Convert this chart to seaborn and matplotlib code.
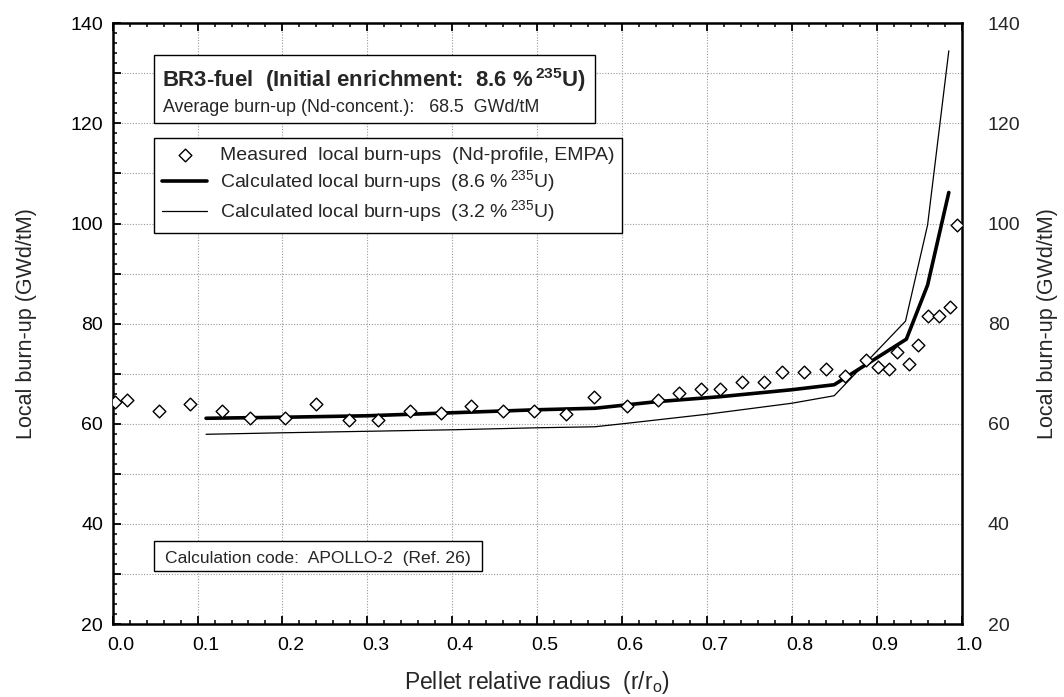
import numpy as np
import pandas as pd
import matplotlib
matplotlib.use("Agg")
import matplotlib.pyplot as plt
import matplotlib.patches as patches
import matplotlib.transforms as mtransforms
from matplotlib.ticker import MultipleLocator, FuncFormatter
import seaborn as sns

# measured local burn-ups (Nd-profile, EMPA)
r_meas = [0.003, 0.017, 0.055, 0.091, 0.129, 0.162, 0.203, 0.239, 0.278, 0.312,
          0.350, 0.387, 0.422, 0.460, 0.496, 0.534, 0.567, 0.606, 0.642, 0.667,
          0.693, 0.716, 0.741, 0.767, 0.789, 0.815, 0.840, 0.863, 0.888, 0.902,
          0.915, 0.924, 0.938, 0.949, 0.960, 0.973, 0.986, 0.995]
bu_meas = [64.4, 64.8, 62.6, 64.0, 62.6, 61.1, 61.2, 64.0, 60.8, 60.8,
           62.6, 62.1, 63.5, 62.6, 62.6, 62.0, 65.3, 63.5, 64.8, 66.1,
           67.0, 66.9, 68.3, 68.3, 70.4, 70.4, 70.9, 69.6, 72.8, 71.4,
           70.9, 74.4, 71.9, 75.7, 81.5, 81.5, 83.3, 99.7]

# calculated, 8.6 % 235U
r_calc86 = [0.11, 0.2, 0.3, 0.4, 0.5, 0.568, 0.64, 0.715, 0.8, 0.85, 0.935, 0.96, 0.985]
bu_calc86 = [61.1, 61.3, 61.6, 62.2, 62.8, 63.1, 64.4, 65.4, 66.8, 67.8, 76.9, 87.7, 106.2]

# calculated, 3.2 % 235U
r_calc32 = [0.11, 0.2, 0.3, 0.4, 0.5, 0.568, 0.606, 0.7, 0.8, 0.85, 0.934, 0.96, 0.985]
bu_calc32 = [57.9, 58.2, 58.5, 58.8, 59.2, 59.4, 60.1, 61.9, 64.1, 65.6, 80.5, 99.7, 134.5]

lab_meas = "Measured  local burn-ups  (Nd-profile, EMPA)"
lab_86 = "Calculated local burn-ups  (8.6 %$\\,^{235}$U)"
lab_32 = "Calculated local burn-ups  (3.2 %$\\,^{235}$U)"

sns.set_theme(style="ticks")
plt.rcParams["font.family"] = ["Liberation Sans", "DejaVu Sans"]
plt.rcParams["mathtext.fontset"] = "custom"
plt.rcParams["mathtext.rm"] = "Liberation Sans"
plt.rcParams["mathtext.it"] = "Liberation Sans:italic"
plt.rcParams["mathtext.bf"] = "Liberation Sans:bold"

df_meas = pd.DataFrame({"r": r_meas, "bu": bu_meas})
df_86 = pd.DataFrame({"r": r_calc86, "bu": bu_calc86})
df_32 = pd.DataFrame({"r": r_calc32, "bu": bu_calc32})

fig = plt.figure(figsize=(10.64, 6.97), dpi=100)
ax = fig.add_axes([0.1059, 0.1047, 0.7978, 0.8619])

sns.scatterplot(data=df_meas, x="r", y="bu", ax=ax, marker="D", s=42,
                facecolor="white", edgecolor="black", linewidth=1.0,
                label=lab_meas, zorder=5)
sns.lineplot(data=df_86, x="r", y="bu", ax=ax, color="black", linewidth=2.6,
             estimator=None, label=lab_86, zorder=4)
sns.lineplot(data=df_32, x="r", y="bu", ax=ax, color="black", linewidth=0.9,
             estimator=None, label=lab_32, zorder=4)

ax.set_xlim(0.0, 1.0)
ax.set_ylim(20, 140)
ax.xaxis.set_major_locator(MultipleLocator(0.1))
ax.xaxis.set_minor_locator(MultipleLocator(0.02))
ax.yaxis.set_major_locator(MultipleLocator(10))
ax.yaxis.set_minor_locator(MultipleLocator(2))
yfmt = FuncFormatter(lambda v, p: f"{v:.0f}" if round(v) % 20 == 0 else "")
ax.yaxis.set_major_formatter(yfmt)
ax.xaxis.set_major_formatter(FuncFormatter(lambda v, p: f"{v:.1f}"))

ax.grid(True, which="major", linestyle=(0, (1, 1.5)), color="#9a9a9a", linewidth=0.8)
ax.tick_params(which="both", direction="in", top=True, right=True, colors="black",
               labelsize=14)
ax.tick_params(which="major", length=6, width=1.3)
ax.tick_params(which="minor", length=3, width=1.1)
ax.tick_params(axis="y", pad=7)
ax.tick_params(axis="x", pad=9)
for s in ax.spines.values():
    s.set_linewidth(1.8)
    s.set_color("black")

# tick labels on the x axis sit a bit to the right of their ticks
offset = mtransforms.ScaledTranslation(0.08, 0, fig.dpi_scale_trans)
for lbl in ax.get_xticklabels():
    lbl.set_transform(lbl.get_transform() + offset)

ax.set_xlabel("Pellet relative radius  (r/r$_\\mathrm{o}$)", fontsize=16.5, labelpad=11)
ax.set_ylabel("Local burn-up (GWd/tM)", fontsize=15.5, labelpad=24)

ax2 = ax.twinx()
ax2.set_ylim(ax.get_ylim())
ax2.yaxis.set_major_locator(MultipleLocator(10))
ax2.yaxis.set_major_formatter(yfmt)
ax2.tick_params(which="both", length=0, pad=19, labelsize=14)
ax2.set_ylabel("Local burn-up (GWd/tM)", fontsize=15.5, labelpad=12)
for s in ax2.spines.values():
    s.set_visible(False)

leg = ax.legend(loc="upper left", bbox_to_anchor=(0.0487, 0.8086), borderaxespad=0,
                frameon=True, fancybox=False, edgecolor="black", framealpha=1,
                fontsize=14, handlelength=2.3, handletextpad=0.65,
                borderpad=0.42, labelspacing=0.22)
leg.get_frame().set_linewidth(1.0)
leg.set_zorder(10)

# header box
ax.add_patch(patches.Rectangle((0.0487, 0.8345), 0.5193, 0.1135, transform=ax.transAxes,
                               facecolor="white", edgecolor="black", linewidth=1.0, zorder=8))
ax.text(0.0578, 0.8935, "BR3-fuel  (Initial enrichment:  8.6 %$\\,^{\\mathbf{235}}$U)",
        transform=ax.transAxes, fontsize=15.9, fontweight="bold", va="baseline", zorder=9)
ax.text(0.0587, 0.8518, "Average burn-up (Nd-concent.):   68.5  GWd/tM",
        transform=ax.transAxes, fontsize=12.9, va="baseline", zorder=9)

# code box
ax.add_patch(patches.Rectangle((0.0487, 0.0882), 0.3863, 0.05, transform=ax.transAxes,
                               facecolor="white", edgecolor="black", linewidth=1.0, zorder=8))
ax.text(0.0611, 0.101, "Calculation code:  APOLLO-2  (Ref. 26)",
        transform=ax.transAxes, fontsize=12.6, va="baseline", zorder=9)

fig.savefig("out.png", dpi=100)
